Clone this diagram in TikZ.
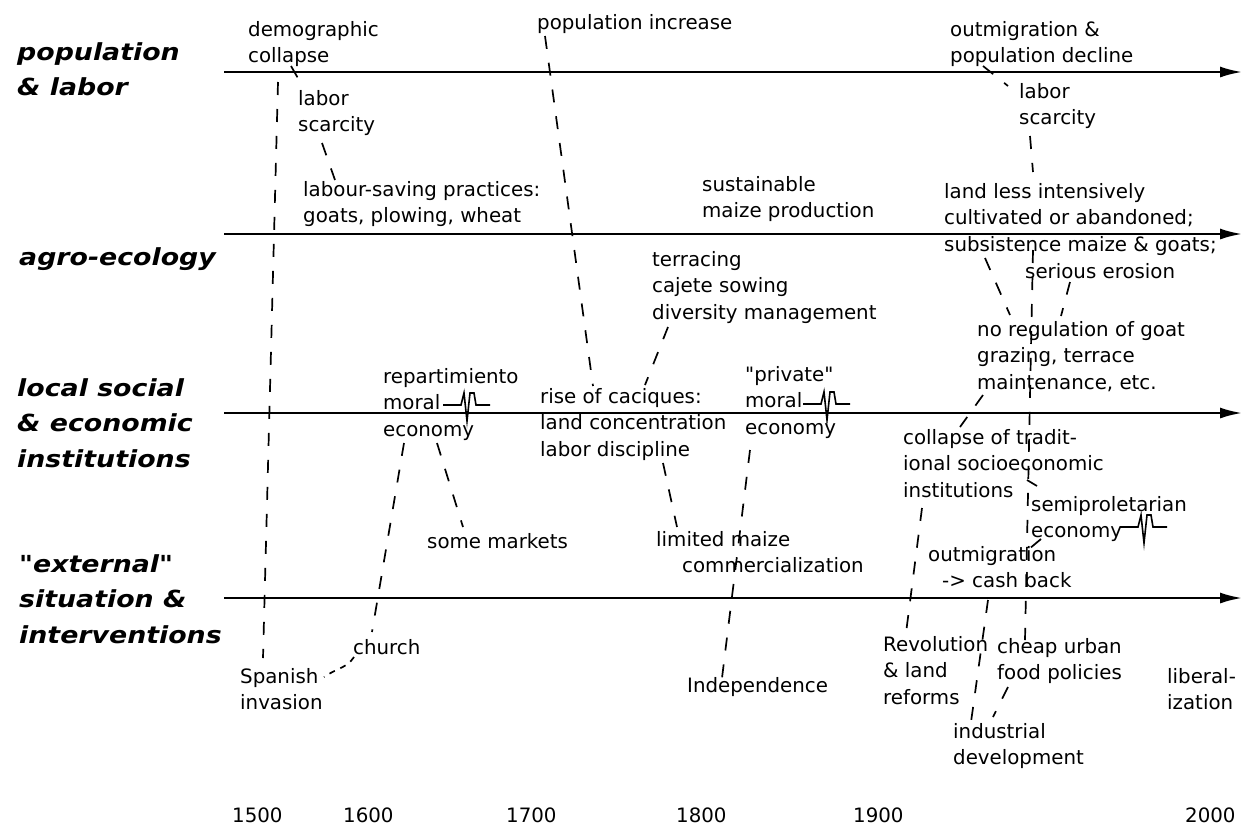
\documentclass[tikz,border=0pt]{standalone}
\usepackage{fontspec}
\newfontfamily\txtfont{DejaVu Sans}
\newfontfamily\catfont{DejaVu Sans}[FakeStretch=1.14]
\usetikzlibrary{arrows.meta}
\newcommand{\mylines}[1]{\vtop{\halign{##\hfil\cr#1\crcr}}}
\begin{document}
\begin{tikzpicture}[x=1pt,y=-1pt,
  lbl/.style={anchor=base west,inner sep=0pt,font=\txtfont\fontsize{19.8}{26.5}\selectfont},
  cat/.style={anchor=base west,inner sep=0pt,font=\catfont\bfseries\itshape\fontsize{23.5}{35.5}\selectfont},
  axis/.style={line width=2.2pt,-{Latex[length=22pt,width=11pt]}},
  conn/.style={line width=1.7pt,dash pattern=on 13pt off 14pt},
  brk/.style={line width=1.6pt}]
\useasboundingbox[fill=white] (0,0) rectangle (1248,839);

% axes
\coordinate (a1s) at (224,72);  \coordinate (a1e) at (1242,72);
\coordinate (a2s) at (224,234); \coordinate (a2e) at (1242,234);
\coordinate (a3s) at (224,413); \coordinate (a3e) at (1242,413);
\coordinate (a4s) at (224,598); \coordinate (a4e) at (1242,598);
\draw[axis] (a1s) -- (a1e);
\draw[axis] (a2s) -- (a2e);
\draw[axis] (a3s) -- (a3e);
\draw[axis] (a4s) -- (a4e);

% category labels
\node[cat] (c1) at (17,60) {\mylines{population\cr\& labor}};
\node[cat] (c2) at (19,265) {agro-ecology};
\node[cat] (c3) at (17,396) {\mylines{local social\cr\& economic\cr institutions}};
\node[cat] (c4) at (19,572) {\mylines{"external"\cr situation \&\cr interventions}};

% event labels
\node[lbl] (demo) at (248,36) {\mylines{demographic\cr collapse}};
\node[lbl] (labL) at (298,105) {\mylines{labor\cr scarcity}};
\node[lbl] (save) at (303,196) {\mylines{labour-saving practices:\cr goats, plowing, wheat}};
\node[lbl] (popinc) at (537,29) {population increase};
\node[lbl] (sust) at (702,191) {\mylines{sustainable\cr maize production}};
\node[lbl] (terr) at (652,266) {\mylines{terracing\cr cajete sowing\cr diversity management}};
\node[lbl] (outpop) at (950,36) {\mylines{outmigration \&\cr population decline}};
\node[lbl] (labR) at (1019,98) {\mylines{labor\cr scarcity}};
\node[lbl] (land) at (944,198) {\mylines{land less intensively\cr cultivated or abandoned;\cr subsistence maize \& goats;}};
\node[lbl] (eros) at (1025,278) {serious erosion};
\node[lbl] (noreg) at (977,336) {\mylines{no regulation of goat\cr grazing, terrace\cr maintenance, etc.}};
\node[lbl] (rep) at (383,383) {\mylines{repartimiento\cr moral\cr economy}};
\node[lbl] (cac) at (540,403) {\mylines{rise of caciques:\cr land concentration\cr labor discipline}};
\node[lbl] (priv) at (745,381) {\mylines{"private"\cr moral\cr economy}};
\node[lbl] (coll) at (903,444) {\mylines{collapse of tradit-\cr ional socioeconomic\cr institutions}};
\node[lbl] (semi) at (1031,511) {\mylines{semiproletarian\cr economy}};
\node[lbl] (mkts) at (427,548) {some markets};
\node[lbl] (lim) at (656,546) {\mylines{limited maize\cr\hspace*{26pt}commercialization}};
\node[lbl] (outc) at (928,561) {\mylines{outmigration\cr\hspace*{14pt}-> cash back}};
\node[lbl] (church) at (353,654) {church};
\node[lbl] (spain) at (240,683) {\mylines{Spanish\cr invasion}};
\node[lbl] (indep) at (687,692) {Independence};
\node[lbl] (rev) at (883,651) {\mylines{Revolution\cr\& land\cr reforms}};
\node[lbl] (cheap) at (997,653) {\mylines{cheap urban\cr food policies}};
\node[lbl] (lib) at (1167,683) {\mylines{liberal-\cr ization}};
\node[lbl] (ind) at (953,738) {\mylines{industrial\cr development}};

% years
\node[lbl] (y1500) at (232,822) {1500};
\node[lbl] (y1600) at (343,822) {1600};
\node[lbl] (y1700) at (506,822) {1700};
\node[lbl] (y1800) at (676,822) {1800};
\node[lbl] (y1900) at (853,822) {1900};
\node[lbl] (y2000) at (1185,822) {2000};

% break marks
\draw[brk,shift={(443,405)}] (0,0)--(18,0)--(21,-12)--(24,16)--(27,-12)--(31,-12)--(33,0)--(47,0);
\draw[brk,shift={(803,404)}] (0,0)--(18,0)--(21,-12)--(24,16)--(27,-12)--(31,-12)--(33,0)--(47,0);
\draw[brk,shift={(1120,527)}] (0,0)--(18,0)--(21,-12)--(24,16)--(27,-12)--(31,-12)--(33,0)--(47,0);

% connectors
\coordinate (invT) at (278,82);   \coordinate (invB) at (263,658);
\draw[conn] (invT) -- (invB);
\coordinate (colA) at (291,66);   \coordinate (colB) at (299,80);
\draw[conn] (colA) -- (colB);
\coordinate (scA) at (322,143);   \coordinate (scB) at (335,180);
\draw[conn] (scA) -- (scB);
\coordinate (piA) at (545,36);    \coordinate (piB) at (593,386);
\draw[conn] (piA) -- (piB);
\coordinate (teA) at (668,327);   \coordinate (teB) at (645,385);
\draw[conn] (teA) -- (teB);
\coordinate (rmA) at (437,443);   \coordinate (rmB) at (463,527);
\draw[conn] (rmA) -- (rmB);
\coordinate (rcA) at (404,443);   \coordinate (rcB) at (372,632);
\draw[conn] (rcA) -- (rcB);
\coordinate (chA) at (354,657);   \coordinate (chB) at (324,677);
\draw[conn,dash pattern=on 6pt off 6pt] (chA) .. controls (347,668) and (337,668) .. (chB);
\coordinate (ldA) at (663,463);   \coordinate (ldB) at (677,527);
\draw[conn] (ldA) -- (ldB);
\coordinate (pvA) at (750,450);   \coordinate (pvB) at (722,678);
\draw[conn] (pvA) -- (pvB);
\coordinate (opA) at (983,66);    \coordinate (opB) at (1008,86);
\draw[conn] (opA) -- (opB);
\coordinate (lsA) at (1030,136);  \coordinate (lsB) at (1033,172);
\draw[conn] (lsA) -- (lsB);
\coordinate (smA) at (985,258);   \coordinate (smB) at (1010,315);
\draw[conn] (smA) -- (smB);
\coordinate (vA) at (1033,250);   \coordinate (vB) at (1025,640);
\draw[conn] (vA) -- (vB);
\coordinate (ciA) at (1027,480);  \coordinate (ciB) at (1037,486);
\draw[conn] (ciA) -- (ciB);
\coordinate (seA) at (1041,539);  \coordinate (seB) at (1029,549);
\draw[conn] (seA) -- (seB);
\coordinate (erA) at (1070,282);  \coordinate (erB) at (1061,316);
\draw[conn] (erA) -- (erB);
\coordinate (mtA) at (983,395);   \coordinate (mtB) at (960,427);
\draw[conn] (mtA) -- (mtB);
\coordinate (inA) at (922,508);   \coordinate (inB) at (906,633);
\draw[conn] (inA) -- (inB);
\coordinate (cbA) at (988,600);   \coordinate (cbB) at (971,722);
\draw[conn] (cbA) -- (cbB);
\coordinate (fpA) at (1008,687);  \coordinate (fpB) at (993,717);
\draw[conn] (fpA) -- (fpB);
\end{tikzpicture}
\end{document}
